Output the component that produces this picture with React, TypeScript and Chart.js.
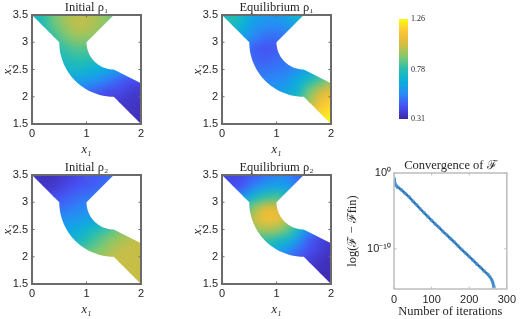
import React, { useEffect, useRef } from "react";
import { Chart, registerables } from "chart.js";
Chart.register(...registerables);

const gridX = [0, 0.2, 0.4, 0.6, 0.8, 1, 1.2, 1.4, 1.6, 1.8, 2];
const gridY = [3.5, 3.3, 3.1, 2.9, 2.7, 2.5, 2.3, 2.1, 1.9, 1.7, 1.5];

const initialRho1 = [
  [.71, .79, .88, .95, .98, .98, .95, .90, .83, .77, .71],
  [.69, .77, .86, .93, .98, .98, .95, .90, .83, .77, .71],
  [.65, .73, .81, .88, .93, .93, .90, .85, .79, .74, .69],
  [.61, .69, .76, .81, .85, .85, .83, .79, .74, .69, .64],
  [.60, .64, .71, .76, .79, .79, .76, .72, .67, .62, .60],
  [.57, .61, .66, .70, .72, .70, .67, .63, .60, .56, .52],
  [.52, .56, .60, .62, .62, .60, .57, .52, .47, .43, .41],
  [.47, .50, .54, .54, .54, .50, .46, .42, .41, .38, .37],
  [.42, .44, .46, .46, .46, .42, .40, .38, .37, .36, .35],
  [.38, .38, .38, .38, .38, .37, .37, .36, .35, .35, .34],
  [.36, .36, .36, .36, .36, .35, .35, .35, .34, .34, .34],
];
const equilibriumRho1 = [
  [.72, .78, .70, .63, .60, .60, .64, .72, .76, .76, .76],
  [.72, .74, .67, .59, .56, .55, .58, .65, .70, .70, .70],
  [.60, .63, .61, .54, .50, .49, .52, .57, .60, .62, .62],
  [.56, .56, .52, .46, .44, .45, .49, .52, .55, .58, .62],
  [.54, .53, .50, .47, .46, .48, .50, .53, .58, .62, .68],
  [.57, .55, .52, .50, .50, .51, .53, .58, .64, .72, .80],
  [.57, .56, .55, .54, .54, .55, .59, .66, .75, .84, .92],
  [.58, .57, .57, .57, .58, .60, .63, .72, .88, 1.0, 1.06],
  [.58, .58, .58, .60, .62, .64, .68, .80, .95, 1.10, 1.16],
  [.58, .58, .60, .62, .64, .68, .74, .90, 1.05, 1.18, 1.22],
  [.58, .60, .62, .64, .68, .74, .82, 1.0, 1.10, 1.22, 1.26],
];
const initialRho2 = [
  [.36, .34, .35, .37, .40, .43, .45, .48, .50, .54, .58],
  [.37, .36, .37, .40, .43, .45, .47, .49, .52, .56, .60],
  [.40, .40, .42, .45, .48, .50, .52, .54, .57, .60, .64],
  [.44, .46, .48, .50, .53, .55, .57, .60, .63, .66, .70],
  [.50, .51, .54, .57, .59, .61, .64, .69, .74, .80, .84],
  [.56, .57, .60, .62, .65, .70, .76, .82, .88, .92, .94],
  [.62, .63, .65, .68, .72, .78, .84, .90, .95, .98, 1.0],
  [.68, .70, .72, .76, .80, .86, .90, .95, .99, 1.0, 1.0],
  [.72, .74, .76, .80, .85, .90, .95, .98, 1.0, 1.0, 1.0],
  [.78, .80, .82, .86, .90, .95, .98, 1.0, 1.0, 1.0, 1.0],
  [.82, .84, .86, .90, .94, .98, 1.0, 1.0, 1.0, 1.0, 1.0],
];
const equilibriumRho2 = [
  [.40, .40, .42, .46, .50, .54, .54, .48, .44, .42, .42],
  [.42, .42, .46, .54, .60, .62, .60, .52, .46, .44, .44],
  [.46, .50, .60, .72, .80, .82, .76, .65, .54, .50, .48],
  [.55, .65, .78, .92, 1.02, 1.02, .92, .78, .62, .52, .46],
  [.60, .72, .88, 1.0, 1.09, 1.08, .98, .82, .64, .50, .44],
  [.60, .72, .84, .92, .96, .94, .86, .72, .56, .46, .40],
  [.55, .65, .74, .78, .80, .76, .70, .58, .46, .40, .37],
  [.50, .55, .62, .66, .66, .62, .56, .48, .42, .38, .35],
  [.45, .50, .52, .54, .54, .50, .46, .42, .38, .35, .34],
  [.42, .44, .46, .46, .46, .44, .40, .37, .36, .34, .33],
  [.40, .42, .42, .42, .42, .40, .38, .36, .34, .33, .33],
];

const iterations = [0, 1, 2, 3, 5, 10, 20, 30, 40, 50, 60, 70, 80, 90, 100, 110, 120, 130, 140, 150, 160, 170, 180, 190, 200, 210, 220, 230, 240, 250, 255, 260, 263, 265, 266];
const decadesBelowOne = [0.7, 1.0, 1.3, 1.45, 1.6, 1.85, 2.25, 2.7, 3.15, 3.7, 4.2, 4.75, 5.25, 5.75, 6.25, 6.75, 7.2, 7.7, 8.15, 8.64, 9.1, 9.6, 10.1, 10.55, 11.03, 11.5, 12.0, 12.45, 12.95, 13.4, 13.7, 14.1, 14.5, 14.9, 15.1];

const colorbarLimits = [0.31, 1.26];
const colorbarTicks = [0.31, 0.78, 1.26];
const colormap: [number, number, number, number][] = [
  [0, 62, 38, 168],
  [0.125, 71, 80, 244],
  [0.25, 41, 138, 246],
  [0.375, 10, 175, 220],
  [0.5, 40, 190, 175],
  [0.625, 130, 200, 110],
  [0.75, 215, 188, 62],
  [0.875, 254, 195, 55],
  [1, 249, 251, 21],
];

const FRAME = "#6b6b6b";
const TXT = "#262626";
const SANS = "'Liberation Sans', sans-serif";
const SERIF = "'Liberation Serif', serif";

function rgbAt(t: number) {
  const u = Math.min(1, Math.max(0, t));
  for (let i = 1; i < colormap.length; i++) {
    if (u <= colormap[i][0]) {
      const a = colormap[i - 1], b = colormap[i];
      const f = (u - a[0]) / (b[0] - a[0]);
      return [a[1] + (b[1] - a[1]) * f, a[2] + (b[2] - a[2]) * f, a[3] + (b[3] - a[3]) * f];
    }
  }
  return colormap[colormap.length - 1].slice(1);
}
const rgbOf = (v: number) => rgbAt((v - colorbarLimits[0]) / (colorbarLimits[1] - colorbarLimits[0]));
const cssOf = (v: number) => {
  const c = rgbOf(v);
  return `rgb(${Math.round(c[0])},${Math.round(c[1])},${Math.round(c[2])})`;
};

function arcPts(cx: number, cy: number, r: number, from: number, to: number) {
  const out: number[][] = [];
  for (let i = 0; i <= 24; i++) {
    const a = ((from + ((to - from) * i) / 24) * Math.PI) / 180;
    out.push([cx + r * Math.cos(a), cy + r * Math.sin(a)]);
  }
  return out;
}
const domain = [
  [0, 3.5],
  ...arcPts(1.5, 3, 1, 180, 270),
  [2, 1.5],
  [2, 2.25],
  ...arcPts(1.5, 3, 0.5, 270, 180),
  [1.5, 3.5],
];

const framePlugin = (color: string, width: number) => ({
  id: "frame",
  afterDraw(chart: any) {
    const { ctx, chartArea: a, scales } = chart;
    ctx.save();
    ctx.strokeStyle = color;
    ctx.lineWidth = width;
    ctx.strokeRect(a.left, a.top, a.right - a.left, a.bottom - a.top);
    ctx.lineWidth = 1;
    ctx.beginPath();
    for (const t of scales.x.ticks) {
      const p = scales.x.getPixelForValue(t.value);
      ctx.moveTo(p, a.bottom); ctx.lineTo(p, a.bottom - 2.5);
      ctx.moveTo(p, a.top); ctx.lineTo(p, a.top + 2.5);
    }
    for (const t of scales.y.ticks) {
      const p = scales.y.getPixelForValue(t.value);
      ctx.moveTo(a.left, p); ctx.lineTo(a.left + 2.5, p);
      ctx.moveTo(a.right, p); ctx.lineTo(a.right - 2.5, p);
    }
    ctx.stroke();
    ctx.restore();
  },
});

const heatPlugin = {
  id: "heat",
  beforeDatasetsDraw(chart: any) {
    const { ctx, scales } = chart;
    const pts = chart.getDatasetMeta(0).data;
    const pv = chart.data.datasets[0].data;
    const nx = gridX.length, ny = gridY.length;
    const off = document.createElement("canvas");
    off.width = nx; off.height = ny;
    const oc = off.getContext("2d")!;
    const img = oc.createImageData(nx, ny);
    pv.forEach((p: any, i: number) => {
      const c = rgbOf(p.v);
      img.data[i * 4] = c[0]; img.data[i * 4 + 1] = c[1]; img.data[i * 4 + 2] = c[2]; img.data[i * 4 + 3] = 255;
    });
    oc.putImageData(img, 0, 0);
    ctx.save();
    ctx.beginPath();
    domain.forEach(([x, y], i) => {
      const px = scales.x.getPixelForValue(x), py = scales.y.getPixelForValue(y);
      if (i) ctx.lineTo(px, py); else ctx.moveTo(px, py);
    });
    ctx.closePath();
    ctx.clip();
    const dx = (pts[nx - 1].x - pts[0].x) / (nx - 1);
    const dy = (pts[nx * (ny - 1)].y - pts[0].y) / (ny - 1);
    ctx.imageSmoothingEnabled = true;
    ctx.imageSmoothingQuality = "high";
    ctx.drawImage(off, pts[0].x - dx / 2, pts[0].y - dy / 2, nx * dx, ny * dy);
  },
  afterDatasetsDraw(chart: any) {
    chart.ctx.restore();
  },
};

function axisCfg(extra: any, size: number, horizontal: boolean, title: string, titlePad: any) {
  return {
    ...extra,
    grid: { display: false, drawTicks: false, tickLength: 0 },
    border: { display: false },
    afterFit(s: any) {
      if (horizontal) s.height = size; else s.width = size;
    },
    title: { display: true, text: title, color: TXT, padding: titlePad, font: { family: SERIF, size: 12.5, style: title.startsWith("x") ? "italic" : "normal" } },
  };
}

function heatConfig(title: string, table: number[][]) {
  const data: any[] = [];
  gridY.forEach((y, j) => gridX.forEach((x, i) => data.push({ x, y, v: table[j][i] })));
  return {
    type: "scatter",
    data: {
      datasets: [{
        label: title,
        data,
        pointStyle: "rect",
        pointRadius: 1,
        pointBorderWidth: 0,
        pointBackgroundColor: data.map((d) => cssOf(d.v)),
      }],
    },
    options: {
      responsive: false,
      animation: false,
      layout: { padding: { right: 9, bottom: 0 } },
      plugins: {
        legend: { display: false },
        tooltip: { enabled: false },
        title: { display: true, text: title, fullSize: false, color: TXT, padding: { top: 0, bottom: 0.5 }, font: { family: SERIF, size: 12.5, weight: "normal", lineHeight: 1.16 } },
      },
      scales: {
        x: axisCfg({ type: "linear", min: 0, max: 2, ticks: { stepSize: 1, color: TXT, padding: 3, maxRotation: 0, font: { family: SANS, size: 11 } } }, 33, true, "x₁", { top: 0, bottom: 0 }),
        y: axisCfg({ type: "linear", min: 1.5, max: 3.5, ticks: { stepSize: 0.5, color: TXT, padding: 4, callback: (v: number) => String(v), font: { family: SANS, size: 11 } } }, 32, false, "x₂", { top: 0, bottom: 0 }),
      },
    },
    plugins: [heatPlugin, framePlugin(FRAME, 2)],
  };
}

const supers: Record<string, string> = { "0": "⁰", "1": "¹", "-": "⁻" };
const convergenceTicks = [1e-10, 1];
function convergenceConfig() {
  return {
    type: "scatter",
    data: {
      datasets: [{
        label: "Convergence",
        data: iterations.map((x, i) => ({ x, y: Math.pow(10, -decadesBelowOne[i]) })),
        showLine: true,
        borderColor: "#1f6fb4",
        borderWidth: 2.5,
        pointRadius: 2,
        pointBorderWidth: 0,
        pointBackgroundColor: "rgba(90,155,210,0.55)",
      }],
    },
    options: {
      responsive: false,
      animation: false,
      layout: { padding: { right: 11 } },
      plugins: {
        legend: { display: false },
        tooltip: { enabled: false },
        title: { display: true, text: "Convergence of ℱ", fullSize: false, color: TXT, padding: { top: 3, bottom: 0.5 }, font: { family: SERIF, size: 12.5, weight: "normal", lineHeight: 1.16 } },
      },
      scales: {
        x: axisCfg({ type: "linear", min: 0, max: 300, ticks: { stepSize: 100, color: TXT, padding: 4, maxRotation: 0, font: { family: SANS, size: 11 } } }, 30, true, "Number of iterations", { top: 0, bottom: 0 }),
        y: axisCfg({
          type: "logarithmic", min: Math.pow(10, -15.3), max: 1,
          afterBuildTicks(s: any) { s.ticks = convergenceTicks.map((value) => ({ value })); },
          ticks: {
            color: TXT, padding: 3, autoSkip: false,
            callback: (v: number) => "10" + String(Math.round(Math.log10(v))).split("").map((c) => supers[c]).join(""),
            font: { family: SANS, size: 11 },
          },
        }, 49, false, "log(ℱ − ℱfin)", { top: 0, bottom: 0 }),
      },
    },
    plugins: [framePlugin("#bdbdbd", 1.5)],
  };
}

function colorbarConfig() {
  return {
    type: "bar",
    data: {
      labels: ["ρ"],
      datasets: [{
        label: "ρ",
        data: [colorbarLimits],
        barPercentage: 1,
        categoryPercentage: 1,
        backgroundColor(ctx: any) {
          const a = ctx.chart.chartArea;
          if (!a) return "#000";
          const g = ctx.chart.ctx.createLinearGradient(0, a.bottom, 0, a.top);
          colormap.forEach(([t, r, gr, b]) => g.addColorStop(t, `rgb(${r},${gr},${b})`));
          return g;
        },
      }],
    },
    options: {
      responsive: false,
      animation: false,
      layout: { padding: { left: 19, top: 19, bottom: 21 } },
      plugins: { legend: { display: false }, tooltip: { enabled: false } },
      scales: {
        x: { display: false, grid: { display: false } },
        y: {
          position: "right", min: colorbarLimits[0], max: colorbarLimits[1],
          grid: { display: false, drawTicks: false, tickLength: 0 }, border: { display: false },
          afterBuildTicks(s: any) { s.ticks = colorbarTicks.map((value) => ({ value })); },
          afterFit(s: any) { s.width = 32; },
          ticks: { color: TXT, padding: 3, autoSkip: false, callback: (v: number) => v.toFixed(2), font: { family: SERIF, size: 8 } },
        },
      },
    },
  };
}

function Panel({ left, top, width, height, make }: any) {
  const ref = useRef<HTMLCanvasElement>(null);
  useEffect(() => {
    const c = new Chart(ref.current as any, make());
    return () => c.destroy();
  }, []);
  return <canvas ref={ref} width={width} height={height} style={{ position: "absolute", left, top, width, height }} />;
}

export default function App() {
  return (
    <div style={{ position: "absolute", left: 0, top: 0, width: 520, height: 319, background: "#fff", overflow: "hidden" }}>
      <Panel left={0} top={0} width={150} height={157} make={() => heatConfig("Initial ρ₁", initialRho1)} />
      <Panel left={190} top={0} width={150} height={157} make={() => heatConfig("Equilibrium ρ₁", equilibriumRho1)} />
      <Panel left={0} top={160} width={150} height={157} make={() => heatConfig("Initial ρ₂", initialRho2)} />
      <Panel left={190} top={160} width={150} height={157} make={() => heatConfig("Equilibrium ρ₂", equilibriumRho2)} />
      <Panel left={345} top={155} width={175} height={164} make={convergenceConfig} />
      <Panel left={380} top={0} width={60} height={140} make={colorbarConfig} />
    </div>
  );
}
